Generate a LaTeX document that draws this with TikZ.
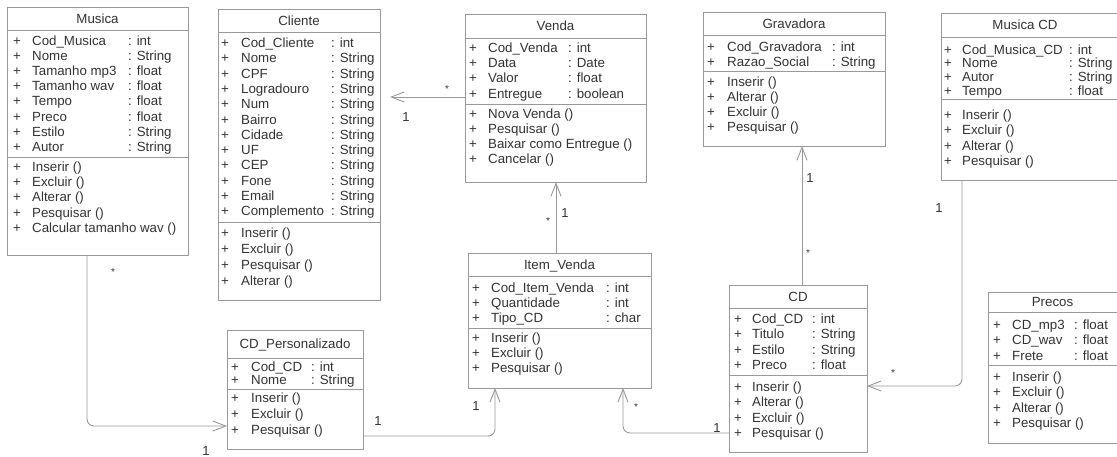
\documentclass[tikz,border=0pt]{standalone}
\usepackage{fontspec}
\setmainfont{Liberation Sans}
\usetikzlibrary{arrows.meta,calc}
\definecolor{ln}{gray}{0.6}
\definecolor{tx}{gray}{0.2}
\tikzset{
  clsbox/.style={draw=ln, line width=0.9pt, inner sep=0pt, outer sep=0pt, anchor=north west},
  clssep/.style={draw=ln, line width=0.9pt},
  clstitle/.style={text=tx, inner sep=0pt, anchor=base, font=\fontsize{13.3}{15.2}\selectfont},
  clstext/.style={text=tx, inner sep=0pt, anchor=base west},
  conn/.style={draw=ln, line width=0.9pt, -{Straight Barb[length=13pt,width=10pt]}, rounded corners=7pt},
  mult/.style={text=tx, inner sep=0pt, font=\fontsize{13}{15}\selectfont},
  star/.style={text=tx, inner sep=0pt, anchor=north, font=\fontsize{10}{12}\selectfont},
}
% name, L, R, T, S1, S2, B, title
\newcommand\clsframe[8]{%
  \node[clsbox, minimum width={(#3-#2)*1pt}, minimum height={(#7-#4)*1pt}] (#1) at (#2,#4) {};
  \draw[clssep] (#2,#5) -- (#3,#5) (#2,#6) -- (#3,#6);
  \node[clstitle] (#1-title) at ({(#2+#3)/2},{(#4+#5)/2+4.8}) {#8};
}
% name, x, baseline, w1, w2, spacing, rows
\newcommand\clsattrs[7]{%
  \node[clstext] (#1-attrs) at (#2,#3) {\fontsize{13.3}{#6}\selectfont\begin{tabular}[t]{@{}p{#4pt}@{}p{#5pt}@{}l@{}}#7\end{tabular}};
}
% name, x, baseline, w1, spacing, rows
\newcommand\clsmeths[6]{%
  \node[clstext] (#1-meths) at (#2,#3) {\fontsize{13.3}{#5}\selectfont\begin{tabular}[t]{@{}p{#4pt}@{}l@{}}#6\end{tabular}};
}
\begin{document}
\begin{tikzpicture}[x=1pt,y=-1pt]
\useasboundingbox (0,0) rectangle (1117,456);
\fill[white] (0,0) rectangle (1117,456);

% Musica
\clsframe{musica}{7}{188}{7}{30}{157}{255}{Musica}
\clsattrs{musica}{13}{45}{19}{96}{15.2}{+ & Cod\_Musica & : int\\ + & Nome & : String\\ + & Tamanho mp3 & : float\\ + & Tamanho wav & : float\\ + & Tempo & : float\\ + & Preco & : float\\ + & Estilo & : String\\ + & Autor & : String}
\clsmeths{musica}{13}{171}{19}{15.4}{+ & Inserir ()\\ + & Excluir ()\\ + & Alterar ()\\ + & Pesquisar ()\\ + & Calcular tamanho wav ()}

% Cliente
\clsframe{cliente}{218}{380}{9}{32}{222}{300}{Cliente}
\clsattrs{cliente}{221}{47.5}{20}{90}{15.3}{+ & Cod\_Cliente & : int\\ + & Nome & : String\\ + & CPF & : String\\ + & Logradouro & : String\\ + & Num & : String\\ + & Bairro & : String\\ + & Cidade & : String\\ + & UF & : String\\ + & CEP & : String\\ + & Fone & : String\\ + & Email & : String\\ + & Complemento & : String}
\clsmeths{cliente}{221}{237}{20}{16.2}{+ & Inserir ()\\ + & Excluir ()\\ + & Pesquisar ()\\ + & Alterar ()}

% Venda
\clsframe{venda}{465}{646}{14}{38}{104}{182}{Venda}
\clsattrs{venda}{469}{52.5}{19}{80}{15.2}{+ & Cod\_Venda & : int\\ + & Data & : Date\\ + & Valor & : float\\ + & Entregue & : boolean}
\clsmeths{venda}{469}{118}{19}{15.2}{+ & Nova Venda ()\\ + & Pesquisar ()\\ + & Baixar como Entregue ()\\ + & Cancelar ()}

% Gravadora
\clsframe{grav}{703}{885}{12}{35}{71}{146}{Gravadora}
\clsattrs{grav}{707}{51}{20}{105}{15.2}{+ & Cod\_Gravadora & : int\\ + & Razao\_Social & : String}
\clsmeths{grav}{707}{86}{20}{15.2}{+ & Inserir ()\\ + & Alterar ()\\ + & Excluir ()\\ + & Pesquisar ()}

% Musica CD
\clsframe{mcd}{941}{1135}{13}{37}{99}{180}{\hspace*{-26pt}Musica CD}
\clsattrs{mcd}{944}{54}{18}{107}{13.8}{+ & Cod\_Musica\_CD & : int\\ + & Nome & : String\\ + & Autor & : String\\ + & Tempo & : float}
\clsmeths{mcd}{944}{119.5}{18}{15.4}{+ & Inserir ()\\ + & Excluir ()\\ + & Alterar ()\\ + & Pesquisar ()}

% Item_Venda
\clsframe{item}{468}{651}{253}{276}{328}{388}{Item\_Venda}
\clsattrs{item}{472}{292}{19}{115}{15.2}{+ & Cod\_Item\_Venda & : int\\ + & Quantidade & : int\\ + & Tipo\_CD & : char}
\clsmeths{item}{472}{342}{19}{15.2}{+ & Inserir ()\\ + & Excluir ()\\ + & Pesquisar ()}

% CD
\clsframe{cd}{729}{867}{285}{308}{375}{452}{CD}
\clsattrs{cd}{734}{323.5}{18}{60}{15.3}{+ & Cod\_CD & : int\\ + & Titulo & : String\\ + & Estilo & : String\\ + & Preco & : float}
\clsmeths{cd}{734}{391}{18}{15.6}{+ & Inserir ()\\ + & Alterar ()\\ + & Excluir ()\\ + & Pesquisar ()}

% CD_Personalizado
\clsframe{cdp}{227}{363}{330}{358}{389}{449}{CD\_Personalizado}
\clsattrs{cdp}{231}{371}{20}{60}{13.5}{+ & Cod\_CD & : int\\ + & Nome & : String}
\clsmeths{cdp}{231}{402}{20}{16}{+ & Inserir ()\\ + & Excluir ()\\ + & Pesquisar ()}

% Precos
\clsframe{precos}{988}{1135}{292}{312}{365}{443}{\hspace*{-18pt}Precos}
\clsattrs{precos}{993}{329}{19}{62}{15.7}{+ & CD\_mp3 & : float\\ + & CD\_wav & : float\\ + & Frete & : float}
\clsmeths{precos}{993}{381}{19}{15.5}{+ & Inserir ()\\ + & Excluir ()\\ + & Alterar ()\\ + & Pesquisar ()}

% connectors
\draw[conn] ($(musica.south west)+(80,0)$) |- ($(cdp.south west)+(0,-23)$);
\draw[conn, shorten >=10pt] ($(venda.north west)+(0,83)$) -- ($(cliente.north east)+(0,88)$);
\coordinate (iv) at ($(item.north west)+(88,0)$);
\draw[conn] (iv) -- (iv |- venda.south);
\coordinate (cdt) at ($(cd.north west)+(73,0)$);
\draw[conn] (cdt) -- (cdt |- grav.south);
\draw[conn] ($(mcd.south west)+(21,0)$) |- ($(cd.north east)+(0,101)$);
\draw[conn] ($(cdp.north east)+(0,106)$) -| ($(item.south west)+(27,0)$);
\draw[conn] ($(cd.north west)+(0,148)$) -| ($(item.south west)+(155,0)$);

% multiplicities
\node[star] (s1) at (113,268) {*};
\node[mult] (n1) at (206,451) {1};
\node[star] (s2) at (447,85) {*};
\node[mult] (n2) at (406,117) {1};
\node[star] (s3) at (548,217) {*};
\node[mult] (n3) at (565,213) {1};
\node[mult] (n4) at (810,178) {1};
\node[star] (s4) at (808,249) {*};
\node[mult] (n5) at (939,208) {1};
\node[star] (s5) at (893,369) {*};
\node[mult] (n6) at (378,421) {1};
\node[mult] (n7) at (476,406) {1};
\node[star] (s6) at (636,403) {*};
\node[mult] (n8) at (717,428) {1};
\end{tikzpicture}
\end{document}
